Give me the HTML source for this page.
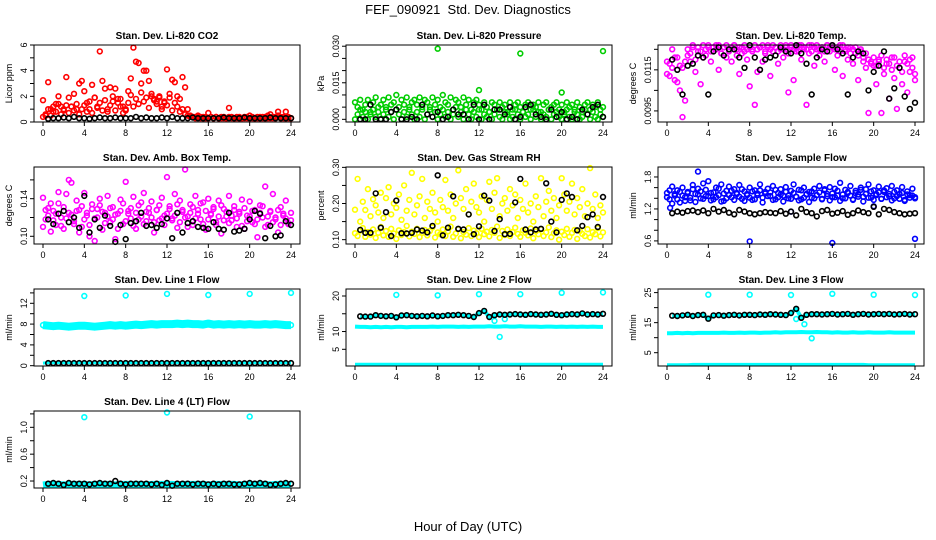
<!DOCTYPE html>
<html><head><meta charset="utf-8"><style>
body{margin:0;background:#fff}
svg{display:block;font-family:"Liberation Sans",sans-serif}
</style></head><body>
<svg id="c" width="936" height="540" viewBox="0 0 936 540">
<text x="468" y="14" text-anchor="middle" font-size="13" style="white-space:pre">FEF_090921  Std. Dev. Diagnostics</text>
<text x="468" y="531" text-anchor="middle" font-size="13">Hour of Day (UTC)</text>
</svg>
<script>
// ---------- data ----------
const xTicks = [0,4,8,12,16,20,24];
// CO2 (ppm)
const co2A = [1.7,0.5,3.1,1.0,0.8,1.4,2.0,1.2,0.9,3.5,1.9,1.2,2.2,1.0,3.0,3.2,2.4,1.5,1.0,2.9,1.9,1.2,5.5,3.2,2.6,1.0,2.7,2.0,2.6,1.5,1.8,1.2,0.9,2.4,3.4,5.8,4.7,4.6,3.0,4.0,4.0,3.2,2.2,1.8,1.6,1.9,1.2,1.5,4.1,2.2,3.3,3.1,2.0,1.8,3.5,2.7,1.0,0.5,0.4,0.4,0.5,0.4,0.3,0.4,0.7,0.4,0.3,0.4,0.3,0.3,0.4,0.3,1.1,0.4,0.3,0.3,0.4,0.3,0.3,0.4,0.5,0.3,0.3,0.4,0.3,0.4,0.3,0.5,0.6,0.3,0.4,0.8,0.4,0.3,0.8,0.4,0.3];
const co2B = [0.4,0.6,1.0,0.5,1.2,0.8,1.4,0.6,1.0,1.3,0.7,1.2,0.9,1.4,0.6,1.0,1.3,0.8,1.6,0.7,1.9,1.1,1.5,0.9,1.7,0.8,1.3,1.6,0.9,1.8,1.2,0.7,1.0,1.5,2.1,1.2,1.8,1.4,2.3,1.6,1.9,1.1,2.0,1.7,1.4,2.0,1.0,1.6,1.3,1.9,0.9,1.5,1.2,0.8,1.0,0.6,0.5,0.4,0.4,0.3,0.4,0.3,0.4,0.3,0.3,0.4,0.3,0.4,0.3,0.4,0.3,0.3,0.4,0.3,0.3,0.4,0.3,0.3,0.4,0.3,0.3,0.4,0.3,0.3,0.4,0.3,0.4,0.3,0.3,0.4,0.3,0.5,0.3,0.4,0.3,0.3,0.3];
const co2K = [null,0.25,0.3,0.3,0.35,0.3,0.4,0.3,0.3,0.25,0.3,0.35,0.3,0.3,0.35,0.3,0.3,0.3,0.4,0.3,0.35,0.3,0.3,0.35,0.3,0.4,0.3,0.3,0.3,0.35,0.3,0.3,0.3,0.3,0.3,0.35,0.3,0.3,0.3,0.35,0.3,0.3,0.3,0.3,0.35,0.3,0.3,0.3,0.3];
// Pressure (kPa)
const presA = [0.007,0.005,0.008,0.004,0.006,0.008,0.003,0.007,0.009,0.005,0.006,0.008,0.004,0.009,0.006,0.007,0.010,0.005,0.008,0.006,0.009,0.004,0.007,0.008,0.006,0.009,0.005,0.008,0.007,0.004,0.009,0.006,0.008,0.005,0.010,0.007,0.006,0.009,0.004,0.008,0.007,0.005,0.009,0.006,0.008,0.004,0.007,0.008,0.006,0.004,0.007,0.005,0.003,0.007,0.006,0.004,0.007,0.005,0.006,0.003,0.007,0.004,0.006,0.007,0.005,0.003,0.006,0.007,0.004,0.006,0.005,0.007,0.003,0.006,0.007,0.004,0.005,0.006,0.007,0.004,0.006,0.003,0.007,0.005,0.006,0.004,0.007,0.005,0.003,0.006,0.007,0.004,0.006,0.005,0.007,0.004,0.005];
const presB = [0.000,0.002,0.004,0.001,0.003,0.000,0.002,0.004,0.001,0.003,0.000,0.002,0.005,0.001,0.003,0.000,0.004,0.002,0.000,0.003,0.001,0.005,0.002,0.000,0.003,0.001,0.004,0.000,0.002,0.005,0.001,0.003,0.000,0.002,0.004,0.001,0.003,0.000,0.002,0.005,0.001,0.003,0.000,0.004,0.002,0.000,0.003,0.001,0.004,0.000,0.002,0.001,0.003,0.000,0.002,0.004,0.001,0.000,0.003,0.002,0.000,0.001,0.004,0.002,0.000,0.003,0.001,0.002,0.000,0.004,0.001,0.003,0.000,0.002,0.001,0.004,0.000,0.002,0.003,0.001,0.000,0.002,0.004,0.001,0.000,0.003,0.002,0.000,0.001,0.004,0.002,0.000,0.003,0.001,0.000,0.002,0.001];
const presOutX = [8,16,24,12,20];
const presOutY = [0.029,0.027,0.028,0.012,0.011];
const presK = [null,0.000,0.000,0.006,0.000,0.000,0.000,0.003,0.004,0.000,0.000,0.001,0.000,0.006,0.002,0.001,0.003,0.000,0.001,0.004,0.002,0.002,0.000,0.006,0.000,0.006,0.000,0.004,0.004,0.002,0.005,0.000,0.001,0.005,0.006,0.002,0.001,0.000,0.004,0.001,0.003,0.000,0.001,0.000,0.004,0.002,0.005,0.006,0.001];
// Li-820 Temp (deg C)
const tempA = [0.0113,0.0118,0.0125,0.0110,0.0121,0.0105,0.0116,0.0100,0.0122,0.0119,0.0126,0.0114,0.0124,0.0108,0.0121,0.0125,0.0126,0.0119,0.0124,0.0127,0.0115,0.0123,0.0126,0.0121,0.0125,0.0119,0.0127,0.0122,0.0113,0.0126,0.0124,0.0120,0.0107,0.0125,0.0098,0.0114,0.0126,0.0119,0.0123,0.0127,0.0112,0.0124,0.0126,0.0118,0.0125,0.0121,0.0127,0.0104,0.0126,0.0110,0.0124,0.0127,0.0120,0.0125,0.0098,0.0123,0.0127,0.0117,0.0125,0.0122,0.0126,0.0119,0.0127,0.0124,0.0126,0.0115,0.0122,0.0127,0.0112,0.0124,0.0120,0.0126,0.0118,0.0123,0.0110,0.0125,0.0121,0.0116,0.0094,0.0119,0.0117,0.0108,0.0120,0.0094,0.0113,0.0118,0.0101,0.0121,0.0111,0.0096,0.0116,0.0108,0.0119,0.0104,0.0114,0.0121,0.0110];
const tempB = [0.0119,0.0112,0.0116,0.0121,0.0109,0.0117,0.0092,0.0119,0.0125,0.0123,0.0127,0.0120,0.0126,0.0124,0.0127,0.0122,0.0127,0.0124,0.0126,0.0125,0.0127,0.0123,0.0126,0.0127,0.0124,0.0126,0.0127,0.0125,0.0126,0.0123,0.0127,0.0125,0.0126,0.0124,0.0127,0.0125,0.0126,0.0127,0.0124,0.0126,0.0125,0.0127,0.0126,0.0124,0.0127,0.0125,0.0126,0.0123,0.0127,0.0125,0.0126,0.0124,0.0127,0.0126,0.0125,0.0127,0.0124,0.0126,0.0127,0.0125,0.0126,0.0124,0.0127,0.0126,0.0127,0.0125,0.0126,0.0124,0.0127,0.0125,0.0126,0.0123,0.0125,0.0126,0.0122,0.0124,0.0119,0.0123,0.0120,0.0118,0.0121,0.0117,0.0119,0.0122,0.0116,0.0120,0.0118,0.0115,0.0121,0.0117,0.0119,0.0114,0.0122,0.0118,0.0120,0.0116,0.0113];
const tempK = [null,0.0120,0.0115,0.0103,0.0117,0.0118,0.0122,0.0121,0.0103,0.0124,0.0126,0.0122,0.0125,0.0125,0.0121,0.0116,0.0127,0.0121,0.0115,0.0120,0.0121,0.0122,0.0126,0.0124,0.0123,0.0127,0.0123,0.0118,0.0103,0.0121,0.0125,0.0124,0.0127,0.0125,0.0123,0.0103,0.0121,0.0124,0.0123,0.0105,0.0114,0.0117,0.0124,0.0101,0.0106,0.0116,0.0102,0.0096,0.0099];
// Amb. Box Temp (deg C)
const ambA = [0.141,0.118,0.130,0.105,0.127,0.112,0.135,0.120,0.108,0.145,0.125,0.157,0.116,0.138,0.128,0.110,0.146,0.122,0.100,0.134,0.119,0.129,0.140,0.107,0.125,0.143,0.115,0.131,0.097,0.124,0.139,0.113,0.158,0.127,0.119,0.142,0.108,0.133,0.121,0.146,0.116,0.125,0.137,0.104,0.128,0.117,0.141,0.122,0.163,0.132,0.119,0.145,0.109,0.138,0.126,0.171,0.121,0.134,0.112,0.143,0.128,0.118,0.136,0.107,0.140,0.124,0.131,0.115,0.138,0.103,0.129,0.121,0.143,0.117,0.132,0.110,0.126,0.139,0.108,0.122,0.137,0.115,0.128,0.099,0.133,0.120,0.153,0.112,0.126,0.145,0.118,0.104,0.131,0.122,0.138,0.114,0.125];
const ambB = [0.110,0.128,0.122,0.135,0.117,0.124,0.147,0.111,0.131,0.119,0.160,0.123,0.113,0.127,0.104,0.132,0.118,0.125,0.112,0.129,0.095,0.120,0.133,0.126,0.114,0.121,0.130,0.118,0.123,0.108,0.127,0.135,0.116,0.124,0.130,0.111,0.125,0.118,0.136,0.113,0.126,0.130,0.120,0.115,0.128,0.133,0.119,0.112,0.124,0.129,0.117,0.122,0.134,0.115,0.128,0.120,0.110,0.125,0.131,0.119,0.124,0.135,0.113,0.127,0.118,0.123,0.129,0.112,0.121,0.133,0.117,0.126,0.114,0.122,0.128,0.119,0.124,0.111,0.130,0.116,0.121,0.127,0.113,0.118,0.125,0.132,0.110,0.121,0.127,0.115,0.120,0.128,0.112,0.124,0.119,0.113,0.117];
const ambK = [null,0.118,0.113,0.124,0.127,0.115,0.120,0.109,0.143,0.104,0.118,0.109,0.122,0.111,0.094,0.112,0.097,0.114,0.116,0.125,0.111,0.112,0.109,0.113,0.119,0.098,0.125,0.104,0.114,0.116,0.110,0.109,0.108,0.115,0.108,0.107,0.125,0.105,0.106,0.108,0.118,0.127,0.124,0.098,0.111,0.100,0.101,0.116,0.112];
// Gas Stream RH (percent)
const rhA = [0.118,0.110,0.125,0.132,0.108,0.121,0.114,0.128,0.105,0.119,0.135,0.112,0.124,0.108,0.130,0.117,0.102,0.126,0.113,0.121,0.138,0.109,0.122,0.116,0.130,0.107,0.119,0.127,0.112,0.124,0.134,0.106,0.120,0.115,0.128,0.110,0.123,0.136,0.108,0.117,0.129,0.104,0.121,0.114,0.132,0.110,0.125,0.118,0.107,0.130,0.115,0.122,0.109,0.127,0.119,0.136,0.105,0.124,0.113,0.128,0.110,0.121,0.133,0.116,0.108,0.126,0.119,0.112,0.131,0.104,0.123,0.115,0.129,0.110,0.120,0.134,0.107,0.118,0.126,0.100,0.122,0.113,0.130,0.108,0.119,0.127,0.102,0.124,0.116,0.110,0.129,0.106,0.121,0.115,0.132,0.109,0.120];
const rhB = [0.183,0.268,0.150,0.205,0.182,0.240,0.165,0.212,0.195,0.175,0.230,0.160,0.215,0.245,0.170,0.200,0.188,0.225,0.155,0.250,0.180,0.210,0.285,0.170,0.195,0.220,0.268,0.160,0.205,0.185,0.230,0.175,0.150,0.210,0.190,0.265,0.180,0.225,0.160,0.200,0.292,0.215,0.185,0.240,0.170,0.205,0.255,0.190,0.175,0.220,0.150,0.210,0.260,0.185,0.230,0.270,0.165,0.200,0.215,0.180,0.240,0.195,0.225,0.160,0.210,0.185,0.255,0.175,0.200,0.150,0.220,0.190,0.270,0.165,0.205,0.235,0.180,0.215,0.160,0.195,0.270,0.225,0.180,0.205,0.255,0.170,0.215,0.190,0.240,0.165,0.200,0.298,0.185,0.225,0.160,0.195,0.175];
const rhK = [null,0.127,0.119,0.119,0.228,0.133,0.176,0.110,0.208,0.118,0.117,0.119,0.128,0.125,0.120,0.138,0.278,0.112,0.133,0.220,0.130,0.128,0.170,0.115,0.137,0.222,0.208,0.124,0.157,0.115,0.116,0.203,0.268,0.128,0.120,0.128,0.130,0.256,0.150,0.120,0.210,0.228,0.218,0.126,0.138,0.162,0.170,0.135,0.218];
// Sample Flow (ml/min)
const flowA = [1.50,1.38,1.62,1.45,1.55,1.32,1.60,1.42,1.52,1.36,1.65,1.48,1.58,1.40,1.68,1.44,1.72,1.50,1.38,1.60,1.46,1.66,1.35,1.54,1.62,1.42,1.57,1.48,1.65,1.39,1.53,1.46,1.60,1.37,1.55,1.49,1.66,1.41,1.52,1.58,1.44,1.63,1.38,1.50,1.57,1.45,1.61,1.40,1.54,1.66,1.43,1.56,1.38,1.60,1.47,1.52,1.41,1.58,1.46,1.63,1.39,1.55,1.48,1.61,1.42,1.58,1.45,1.69,1.40,1.56,1.50,1.63,1.37,1.54,1.47,1.60,1.43,1.57,1.66,1.41,1.55,1.48,1.62,1.39,1.52,1.59,1.44,1.63,1.40,1.55,1.48,1.61,1.37,1.53,1.46,1.58,1.42];
const flowB = [1.42,1.55,1.30,1.48,1.38,1.52,1.45,1.35,1.50,1.41,1.57,1.33,1.47,1.53,1.39,1.56,1.44,1.36,1.51,1.42,1.58,1.34,1.49,1.40,1.46,1.54,1.37,1.50,1.43,1.57,1.35,1.48,1.41,1.53,1.38,1.46,1.55,1.32,1.49,1.44,1.51,1.37,1.56,1.42,1.47,1.34,1.52,1.45,1.39,1.50,1.43,1.36,1.55,1.41,1.48,1.33,1.53,1.40,1.46,1.51,1.38,1.57,1.44,1.36,1.49,1.42,1.54,1.35,1.47,1.40,1.52,1.45,1.38,1.50,1.43,1.56,1.34,1.48,1.41,1.53,1.37,1.46,1.51,1.39,1.55,1.42,1.48,1.36,1.52,1.44,1.39,1.50,1.35,1.47,1.41,1.45,1.40];
const flowOutX = [3,8,16,24,0.3,12,20];
const flowOutY = [1.90,0.59,0.56,0.64,1.22,1.15,1.25];
const flowK = [null,1.12,1.15,1.13,1.16,1.17,1.14,1.17,1.12,1.20,1.15,1.18,1.13,1.10,1.18,1.15,1.12,1.10,1.12,1.14,1.13,1.12,1.16,1.11,1.15,1.08,1.20,1.14,1.12,1.06,1.16,1.18,1.11,1.13,1.16,1.09,1.12,1.17,1.14,1.12,1.24,1.10,1.20,1.18,1.14,1.12,1.10,1.11,1.12];
// Line 1 Flow
const l1Band = [7.8,7.7,7.6,7.7,7.6,7.5,7.6,7.7,7.7,7.6,7.5,7.6,7.7,7.8,7.7,7.8,7.7,7.8,7.9,7.8,7.9,8.0,7.9,8.0,8.0,8.0,8.1,8.0,8.1,8.0,8.0,7.9,8.1,7.9,8.0,7.9,8.0,7.9,8.0,7.9,8.0,7.9,7.9,8.0,7.9,8.0,7.9,7.8,7.8];
const l1Low = [0.5,0.6,0.6,0.6,0.6,0.6,0.6,0.6,0.6,0.6,0.6,0.6,0.6,0.6,0.6,0.6,0.6,0.6,0.6,0.6,0.6,0.6,0.6,0.6,0.6,0.6,0.6,0.6,0.6,0.6,0.6,0.6,0.6,0.6,0.6,0.6,0.6,0.6,0.6,0.6,0.6,0.6,0.6,0.6,0.6,0.6,0.6,0.6,0.6];
const l1K = [null,0.5,0.5,0.5,0.5,0.5,0.5,0.5,0.5,0.5,0.5,0.5,0.5,0.5,0.5,0.5,0.5,0.5,0.5,0.5,0.5,0.5,0.5,0.5,0.5,0.5,0.5,0.5,0.5,0.5,0.5,0.5,0.5,0.5,0.5,0.5,0.5,0.5,0.5,0.5,0.5,0.5,0.5,0.5,0.5,0.5,0.5,0.5,0.5];
const l1OutX = [4,8,12,16,20,24];
const l1OutY = [13.4,13.5,13.8,13.6,13.8,14.0];
// Line 2 Flow
const l2Band = [11.4,11.3,11.3,11.2,11.3,11.2,11.3,11.2,11.3,11.3,11.2,11.3,11.3,11.3,11.3,11.4,11.3,11.4,11.4,11.4,11.3,11.4,11.3,11.4,11.4,11.4,11.5,11.4,11.4,11.5,11.4,11.4,11.5,11.4,11.4,11.4,11.3,11.4,11.4,11.3,11.4,11.3,11.4,11.3,11.4,11.3,11.4,11.3,11.3];
const l2Low = [0.8,0.8,0.8,0.8,0.8,0.8,0.8,0.8,0.8,0.8,0.8,0.8,0.8,0.8,0.8,0.8,0.8,0.8,0.8,0.8,0.8,0.8,0.8,0.8,0.8,0.8,0.8,0.8,0.8,0.8,0.8,0.8,0.8,0.8,0.8,0.8,0.8,0.8,0.8,0.8,0.8,0.8,0.8,0.8,0.8,0.8,0.8,0.8,0.8];
const l2K = [null,14.3,14.2,14.2,14.6,14.4,14.3,14.4,14.0,14.5,14.6,14.4,14.3,14.4,14.3,14.5,14.3,14.4,14.6,14.6,14.7,14.6,14.4,14.1,15.2,15.8,14.1,14.6,14.8,14.7,14.8,14.9,14.8,14.7,14.9,14.8,14.7,14.8,15.0,14.7,14.6,14.8,14.9,14.8,15.1,14.8,14.9,14.8,15.0];
const l2OutX = [4,8,12,16,20,24,14,13.5,14.5];
const l2OutY = [20.3,20.2,20.5,20.5,20.9,21.0,8.5,13.0,13.5];
// Line 3 Flow
const l3Band = [11.5,11.5,11.6,11.5,11.6,11.5,11.6,11.6,11.6,11.6,11.6,11.7,11.6,11.6,11.7,11.6,11.7,11.7,11.6,11.7,11.7,11.8,11.7,11.8,11.8,11.8,11.9,11.8,11.8,11.9,11.8,11.8,11.7,11.8,11.7,11.7,11.8,11.7,11.7,11.8,11.7,11.7,11.7,11.8,11.7,11.7,11.7,11.7,11.7];
const l3Low = [1.0,1.0,1.0,1.0,1.0,1.1,1.1,1.1,1.1,1.1,1.1,1.1,1.1,1.1,1.1,1.1,1.1,1.1,1.1,1.1,1.1,1.1,1.1,1.1,1.1,1.1,1.1,1.1,1.1,1.1,1.1,1.1,1.1,1.1,1.1,1.1,1.1,1.1,1.1,1.0,1.0,1.0,1.0,1.0,1.0,1.0,1.0,1.0,1.0];
const l3K = [null,17.3,17.2,17.4,17.6,17.2,17.5,17.6,16.3,17.4,17.5,17.3,17.5,17.6,17.4,17.6,17.6,17.5,17.7,17.6,17.8,17.7,17.6,17.5,18.2,19.6,16.6,17.6,17.8,17.8,17.7,17.8,17.9,17.7,17.8,17.9,17.6,17.8,17.9,17.7,17.8,17.9,17.8,17.9,17.7,17.8,17.9,17.7,17.8];
const l3OutX = [4,8,12,16,20,24,14,12.5,13.3];
const l3OutY = [24.3,24.3,24.2,24.6,24.3,24.2,9.8,16.2,14.5];
// Line 4 (LT) Flow
const l4Band = [0.14,0.15,0.15,0.15,0.14,0.15,0.15,0.15,0.15,0.14,0.15,0.15,0.15,0.15,0.14,0.15,0.15,0.15,0.15,0.15,0.14,0.15,0.15,0.15,0.15,0.15,0.14,0.15,0.15,0.15,0.15,0.15,0.14,0.15,0.15,0.15,0.15,0.15,0.14,0.15,0.15,0.15,0.15,0.15,0.14,0.15,0.15,0.15,0.14];
const l4K = [null,0.16,0.17,0.16,0.14,0.17,0.16,0.16,0.16,0.15,0.16,0.17,0.16,0.16,0.20,0.16,0.15,0.16,0.16,0.16,0.16,0.15,0.16,0.14,0.17,0.13,0.16,0.16,0.16,0.15,0.16,0.16,0.15,0.16,0.15,0.16,0.16,0.15,0.15,0.16,0.17,0.16,0.17,0.16,0.14,0.15,0.16,0.17,0.16];
const l4OutX = [4,12,20];
const l4OutY = [1.15,1.22,1.16];

// ---------- layout ----------
const NS = 'http://www.w3.org/2000/svg';
const svg = document.getElementById('c');
const colLeft = [34,346,658], rowTop = [45,167,289,411], W = 266, H = 77;
function mk(tag, attrs, parent){const e=document.createElementNS(NS,tag);for(const k in attrs)e.setAttribute(k,attrs[k]);(parent||svg).appendChild(e);return e;}
function hoursGrid(n, step){const a=[];for(let i=0;i<n;i++)a.push(i*step);return a;}
const hA = hoursGrid(97, 0.25);
const hB = hoursGrid(49, 0.5);

function panel(col,row,cfg){
  const L=colLeft[col], T=rowTop[row], B=T+H;
  const g = mk('g',{});
  
  
  const xs = h => L + 9 + h*(248/24);
  const ys = v => B - (v-cfg.lo)/(cfg.hi-cfg.lo)*H;
  const t = mk('text',{x:L+W/2,y:T-6,'text-anchor':'middle','font-size':10,'font-weight':'bold'},g);
  t.textContent = cfg.title;
  
  
  const series = mk('g',{},g);
  
  
  cfg.bands && cfg.bands.forEach(b=>{
    let d='';
    b.ys.forEach((v,i)=>{ if(v==null) return; d += (d?'L':'M') + xs(b.xs[i]).toFixed(1)+','+ys(v).toFixed(1); });
    const p = mk('path',{d:d,fill:'none',stroke:b.color,'stroke-width':b.w,'stroke-linejoin':'round'},series);
    
    
  });
  cfg.pts.forEach(s=>{
    s.ys.forEach((v,i)=>{
      if(v==null) return;
      const c = mk('circle',{cx:xs(s.xs[i]).toFixed(1),cy:ys(v).toFixed(1),r:2.4,fill:'none',stroke:s.color,'stroke-width':1.6},series);
      
      
    });
  });
  const box = mk('rect',{x:L,y:T,width:W,height:H,fill:'none',stroke:'#000','stroke-width':1},g);
  
  
  const xa = mk('g',{stroke:'#000','stroke-width':1},g);
  
  
  mk('line',{x1:xs(0),x2:xs(24),y1:B,y2:B},xa);
  xTicks.forEach(h=>{
    mk('line',{x1:xs(h),x2:xs(h),y1:B,y2:B+4},xa);
    const tx = mk('text',{x:xs(h),y:B+14,'text-anchor':'middle','font-size':9,stroke:'none'},xa);
    tx.textContent = h;
    
    
  });
  const ya = mk('g',{stroke:'#000','stroke-width':1},g);
  
  
  mk('line',{x1:L,x2:L,y1:ys(cfg.ticks[0]),y2:ys(cfg.ticks[cfg.ticks.length-1])},ya);
  cfg.ticks.forEach(v=>{ mk('line',{x1:L-4,x2:L,y1:ys(v),y2:ys(v)},ya); });
  cfg.labels.forEach((lab,i)=>{
    const y = ys(cfg.labelVals[i]);
    const tx = mk('text',{x:L-7,y:y,'text-anchor':'middle','font-size':9,stroke:'none',transform:`rotate(-90 ${L-7} ${y})`},ya);
    tx.textContent = lab;
    
    
  });
  const yt = mk('text',{x:L-22,y:T+H/2,'text-anchor':'middle','font-size':9,transform:`rotate(-90 ${L-22} ${T+H/2})`},g);
  yt.textContent = cfg.ylab;
  
  
}

const RED='#ff0000', GRN='#00cd00', MAG='#ff00ff', YEL='#ffff00', BLU='#0000ff', CYA='#00ffff', BLK='#000000';

panel(0,0,{name:'panel-co2',title:'Stan. Dev. Li-820 CO2',ylab:'Licor ppm',lo:0,hi:6,ticks:[0,1,2,3,4,5,6],labels:['0','2','4','6'],labelVals:[0,2,4,6],
  pts:[{xs:hA,ys:co2B,color:RED},{xs:hA,ys:co2A,color:RED},{xs:hB,ys:co2K,color:BLK}]});
panel(1,0,{name:'panel-pressure',title:'Stan. Dev. Li-820 Pressure',ylab:'kPa',lo:-0.0011,hi:0.0305,ticks:[0,0.005,0.010,0.015,0.020,0.025,0.030],labels:['0.000','0.015','0.030'],labelVals:[0,0.015,0.030],
  pts:[{xs:hA,ys:presB,color:GRN},{xs:hA,ys:presA,color:GRN},{xs:presOutX,ys:presOutY,color:GRN},{xs:hB,ys:presK,color:BLK}]});
panel(2,0,{name:'panel-li820-temp',title:'Stan. Dev. Li-820 Temp.',ylab:'degrees C',lo:0.00896,hi:0.01271,ticks:[0.0095,0.0105,0.0115,0.0125],labels:['0.0095','0.0115'],labelVals:[0.0095,0.0115],
  pts:[{xs:hA,ys:tempB,color:MAG},{xs:hA,ys:tempA,color:MAG},{xs:hB,ys:tempK,color:BLK}]});
panel(0,1,{name:'panel-amb-box-temp',title:'Stan. Dev. Amb. Box Temp.',ylab:'degrees C',lo:0.0918,hi:0.1737,ticks:[0.10,0.12,0.14,0.16],labels:['0.10','0.14'],labelVals:[0.10,0.14],
  pts:[{xs:hA,ys:ambB,color:MAG},{xs:hA,ys:ambA,color:MAG},{xs:hB,ys:ambK,color:BLK}]});
panel(1,1,{name:'panel-gas-stream-rh',title:'Stan. Dev. Gas Stream RH',ylab:'percent',lo:0.088,hi:0.301,ticks:[0.10,0.15,0.20,0.25,0.30],labels:['0.10','0.20','0.30'],labelVals:[0.10,0.20,0.30],
  pts:[{xs:hA,ys:rhB,color:YEL},{xs:hA,ys:rhA,color:YEL},{xs:hB,ys:rhK,color:BLK}]});
panel(2,1,{name:'panel-sample-flow',title:'Stan. Dev. Sample Flow',ylab:'ml/min',lo:0.542,hi:1.987,ticks:[0.6,0.8,1.0,1.2,1.4,1.6,1.8],labels:['0.6','1.2','1.8'],labelVals:[0.6,1.2,1.8],
  pts:[{xs:hA,ys:flowB,color:BLU},{xs:hA,ys:flowA,color:BLU},{xs:flowOutX,ys:flowOutY,color:BLU},{xs:hB,ys:flowK,color:BLK}]});
panel(0,2,{name:'panel-line1-flow',title:'Stan. Dev. Line 1 Flow',ylab:'ml/min',lo:-0.06,hi:14.75,ticks:[0,2,4,6,8,10,12,14],labels:['0','4','8','12'],labelVals:[0,4,8,12],
  bands:[{xs:hB,ys:l1Band,color:CYA,w:8},{xs:hB,ys:l1Low,color:CYA,w:3}],
  pts:[{xs:hB,ys:l1Band,color:CYA},{xs:l1OutX,ys:l1OutY,color:CYA},{xs:hB,ys:l1K,color:BLK}]});
panel(1,2,{name:'panel-line2-flow',title:'Stan. Dev. Line 2 Flow',ylab:'ml/min',lo:0.3,hi:21.97,ticks:[5,10,15,20],labels:['5','10','20'],labelVals:[5,10,20],
  bands:[{xs:hB,ys:l2Band,color:CYA,w:4},{xs:hB,ys:l2Low,color:CYA,w:3},{xs:hB,ys:l2K,color:CYA,w:4}],
  pts:[{xs:l2OutX,ys:l2OutY,color:CYA},{xs:hB,ys:l2K,color:BLK}]});
panel(2,2,{name:'panel-line3-flow',title:'Stan. Dev. Line 3 Flow',ylab:'ml/min',lo:0.57,hi:26.2,ticks:[5,10,15,20,25],labels:['5','15','25'],labelVals:[5,15,25],
  bands:[{xs:hB,ys:l3Band,color:CYA,w:4},{xs:hB,ys:l3Low,color:CYA,w:3},{xs:hB,ys:l3K,color:CYA,w:4}],
  pts:[{xs:l3OutX,ys:l3OutY,color:CYA},{xs:hB,ys:l3K,color:BLK}]});
panel(0,3,{name:'panel-line4-flow',title:'Stan. Dev. Line 4 (LT) Flow',ylab:'ml/min',lo:0.096,hi:1.243,ticks:[0.2,0.4,0.6,0.8,1.0,1.2],labels:['0.2','0.6','1.0'],labelVals:[0.2,0.6,1.0],
  bands:[{xs:hB,ys:l4Band,color:CYA,w:7}],
  pts:[{xs:l4OutX,ys:l4OutY,color:CYA},{xs:hB,ys:l4K,color:BLK}]});
</script>
</body></html>
